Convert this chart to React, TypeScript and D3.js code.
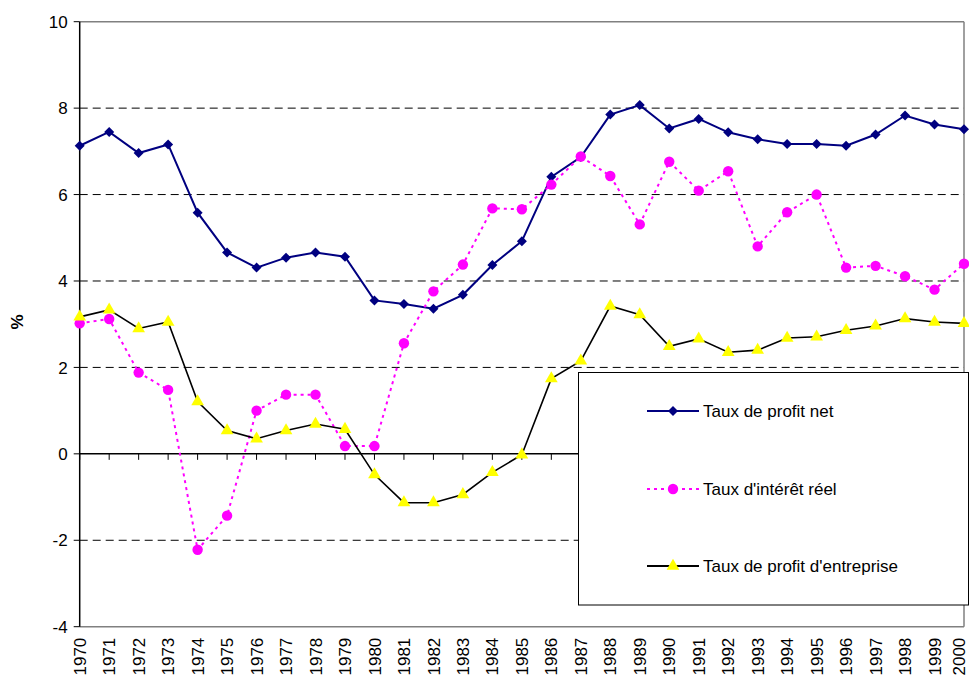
import * as d3 from 'd3';
import { useEffect, useRef } from 'react';

const years = [
  1970, 1971, 1972, 1973, 1974, 1975, 1976, 1977, 1978, 1979,
  1980, 1981, 1982, 1983, 1984, 1985, 1986, 1987, 1988, 1989,
  1990, 1991, 1992, 1993, 1994, 1995, 1996, 1997, 1998, 1999, 2000
];

const profitNet = [
  7.13, 7.45, 6.96, 7.16, 5.58, 4.66, 4.31, 4.54, 4.66, 4.56,
  3.55, 3.47, 3.36, 3.68, 4.37, 4.92, 6.41, 6.87, 7.85, 8.07,
  7.53, 7.75, 7.44, 7.28, 7.17, 7.17, 7.13, 7.39, 7.83, 7.62, 7.51
];

const interetReel = [
  3.02, 3.12, 1.88, 1.48, -2.22, -1.43, 1.0, 1.37, 1.37, 0.18,
  0.18, 2.56, 3.76, 4.38, 5.68, 5.66, 6.23, 6.88, 6.43, 5.31,
  6.76, 6.09, 6.54, 4.8, 5.59, 6.0, 4.31, 4.35, 4.11, 3.8, 4.4
];

const profitEntreprise = [
  3.17, 3.33, 2.9, 3.05, 1.21, 0.54, 0.35, 0.54, 0.69, 0.57,
  -0.48, -1.13, -1.13, -0.94, -0.43, -0.02, 1.74, 2.15, 3.42, 3.22,
  2.49, 2.66, 2.35, 2.4, 2.68, 2.71, 2.86, 2.96, 3.13, 3.05, 3.02
];

const yTicks = [-4, -2, 0, 2, 4, 6, 8, 10];

const seriesNames = ['Taux de profit net', "Taux d'intérêt réel", "Taux de profit d'entreprise"];

const FONT = '"Liberation Sans", Arial, sans-serif';

const App = () => {
  const ref = useRef<SVGSVGElement | null>(null);

  useEffect(() => {
    if (!ref.current) return;
    const svg = d3.select(ref.current);
    svg.selectAll('*').remove();

    const width = 969;
    const height = 677;
    const left = 79.7;
    const right = 964;
    const top = 21.7;
    const bottom = 626.7;

    svg.attr('width', width).attr('height', height);

    const x = d3.scaleLinear().domain([1970, 2000]).range([left, right]);
    const y = d3.scaleLinear().domain([-4, 10]).range([bottom, top]);

    // dashed gridlines
    svg
      .append('g')
      .selectAll('line')
      .data(yTicks.filter(t => t !== 0 && t !== 10 && t !== -4))
      .enter()
      .append('line')
      .attr('x1', left)
      .attr('x2', right)
      .attr('y1', d => y(d))
      .attr('y2', d => y(d))
      .attr('stroke', '#000')
      .attr('stroke-width', 1)
      .attr('stroke-dasharray', '8,5');

    // plot border, gray on top/right/bottom
    svg.append('line').attr('x1', left).attr('x2', right).attr('y1', top).attr('y2', top)
      .attr('stroke', '#808080').attr('stroke-width', 1.5);
    svg.append('line').attr('x1', right).attr('x2', right).attr('y1', top).attr('y2', bottom)
      .attr('stroke', '#808080').attr('stroke-width', 1.5);
    svg.append('line').attr('x1', left).attr('x2', right).attr('y1', bottom).attr('y2', bottom)
      .attr('stroke', '#808080').attr('stroke-width', 1.5);

    // y axis
    const yAxis = svg.append('g');
    yAxis.append('line').attr('x1', left).attr('x2', left).attr('y1', top).attr('y2', bottom)
      .attr('stroke', '#000').attr('stroke-width', 1.5);
    yAxis
      .selectAll('.ytick')
      .data(yTicks)
      .enter()
      .append('line')
      .attr('x1', left - 6)
      .attr('x2', left)
      .attr('y1', d => y(d))
      .attr('y2', d => y(d))
      .attr('stroke', '#000');
    yAxis
      .selectAll('.ylab')
      .data(yTicks)
      .enter()
      .append('text')
      .attr('x', left - 12)
      .attr('y', d => y(d))
      .attr('dy', '0.36em')
      .attr('text-anchor', 'end')
      .attr('font-family', FONT)
      .attr('font-size', 17)
      .text(d => String(d));

    svg
      .append('text')
      .attr('transform', `translate(16.5,322) rotate(-90)`)
      .attr('text-anchor', 'middle')
      .attr('dy', '0.36em')
      .attr('font-family', FONT)
      .attr('font-size', 17)
      .attr('font-weight', 'bold')
      .text('%');

    // x axis sits at 0
    const xAxis = svg.append('g');
    xAxis.append('line').attr('x1', left).attr('x2', right).attr('y1', y(0)).attr('y2', y(0))
      .attr('stroke', '#000').attr('stroke-width', 1.5);
    xAxis
      .selectAll('.xtick')
      .data(years)
      .enter()
      .append('line')
      .attr('x1', d => x(d))
      .attr('x2', d => x(d))
      .attr('y1', y(0))
      .attr('y2', y(0) + 6)
      .attr('stroke', '#000');
    // year labels under the plot; last one nudged so it stays inside the frame
    svg
      .append('g')
      .selectAll('text')
      .data(years)
      .enter()
      .append('text')
      .attr('transform', d => `translate(${Math.min(x(d), width - 10)},${bottom + 11}) rotate(-90)`)
      .attr('dy', '0.36em')
      .attr('text-anchor', 'end')
      .attr('font-family', FONT)
      .attr('font-size', 17)
      .text(d => String(d));

    const line = d3
      .line<number>()
      .x((_, i) => x(years[i]))
      .y(d => y(d));

    const square = d3.symbol().type(d3.symbolSquare).size(50);
    const circle = d3.symbol().type(d3.symbolCircle).size(85);
    const triangle = d3.symbol().type(d3.symbolTriangle).size(70);

    // Taux de profit net
    svg.append('path').attr('d', line(profitNet) || '').attr('fill', 'none')
      .attr('stroke', '#000080').attr('stroke-width', 2);
    svg.append('g').selectAll('path').data(profitNet).enter().append('path')
      .attr('transform', (d, i) => `translate(${x(years[i])},${y(d)}) rotate(45)`)
      .attr('d', square() || '')
      .attr('fill', '#000080');

    // Taux d'intérêt réel
    svg.append('path').attr('d', line(interetReel) || '').attr('fill', 'none')
      .attr('stroke', '#FF00FF').attr('stroke-width', 2).attr('stroke-dasharray', '3,4');
    svg.append('g').selectAll('path').data(interetReel).enter().append('path')
      .attr('transform', (d, i) => `translate(${x(years[i])},${y(d)})`)
      .attr('d', circle() || '')
      .attr('fill', '#FF00FF');

    // Taux de profit d'entreprise
    svg.append('path').attr('d', line(profitEntreprise) || '').attr('fill', 'none')
      .attr('stroke', '#000').attr('stroke-width', 1.6);
    svg.append('g').selectAll('path').data(profitEntreprise).enter().append('path')
      .attr('transform', (d, i) => `translate(${x(years[i])},${y(d)})`)
      .attr('d', triangle() || '')
      .attr('fill', '#FFFF00');

    // legend
    const lg = svg.append('g');
    lg.append('rect').attr('x', 578.5).attr('y', 372.5).attr('width', 390).attr('height', 232.5)
      .attr('fill', '#fff').attr('stroke', '#000').attr('stroke-width', 1);
    const rowsY = [411, 489, 566];
    const styles = [
      { color: '#000080', dash: null, sym: square, fill: '#000080', rot: 45 },
      { color: '#FF00FF', dash: '3,4', sym: circle, fill: '#FF00FF', rot: 0 },
      { color: '#000', dash: null, sym: triangle, fill: '#FFFF00', rot: 0 }
    ];
    seriesNames.forEach((name, i) => {
      const s = styles[i];
      const ln = lg.append('line').attr('x1', 647).attr('x2', 699).attr('y1', rowsY[i]).attr('y2', rowsY[i])
        .attr('stroke', s.color).attr('stroke-width', 2);
      if (s.dash) ln.attr('stroke-dasharray', s.dash);
      lg.append('path').attr('transform', `translate(673,${rowsY[i]}) rotate(${s.rot})`).attr('d', s.sym() || '')
        .attr('fill', s.fill);
      lg.append('text').attr('x', 703).attr('y', rowsY[i]).attr('dy', '0.36em')
        .attr('font-family', FONT).attr('font-size', 17).text(name);
    });
  }, []);

  return <svg ref={ref} style={{ position: 'absolute', left: 0, top: 0 }} />;
};

export default App;
